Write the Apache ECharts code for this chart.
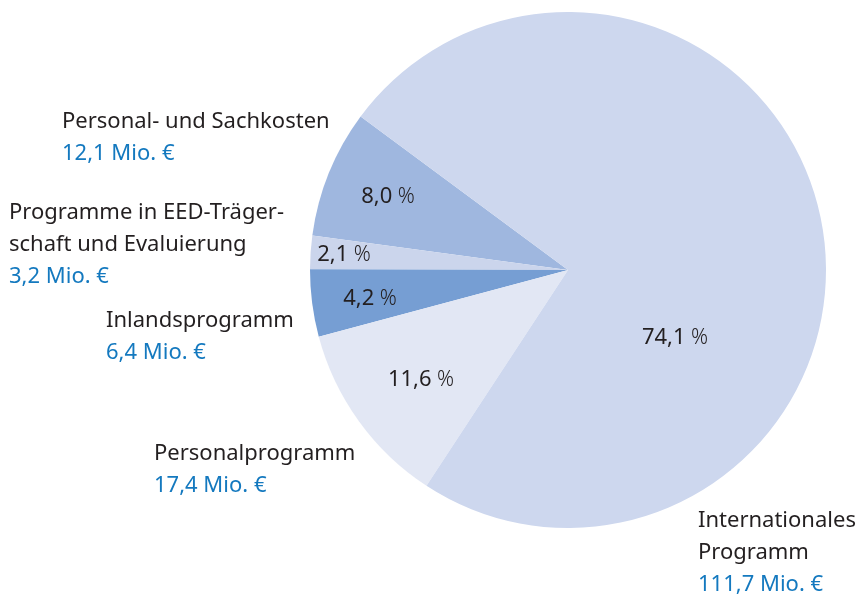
<!DOCTYPE html>
<html>
<head>
<meta charset="utf-8">
<script src="https://cdn.jsdelivr.net/npm/echarts@6/dist/echarts.min.js"></script>
<style>
  html, body { margin: 0; padding: 0; background: #fff; }
  #chart { width: 862px; height: 595px; }
</style>
</head>
<body>
<div id="chart"></div>
<script>
// Slices, counter-clockwise from the upper left edge
var names = ['Personal- und Sachkosten', 'Programme in EED-Träger-\nschaft und Evaluierung', 'Inlandsprogramm', 'Personalprogramm', 'Internationales\nProgramm'];
var amounts = [12.1, 3.2, 6.4, 17.4, 111.7];   // Mio. €
var shares = [8.0, 2.1, 4.2, 11.6, 74.1];      // %

var sliceColors = ['#9fb7df', '#cbd5ec', '#769ed3', '#e2e7f4', '#cdd7ee'];
// where the labels sit (layout only)
var outerLabelPos = [[62, 106], [9, 197], [106, 305], [154, 438], [698, 505]];
var innerLabelPos = [[388, 197], [344, 255], [370, 299], [421, 380], [675, 338]];

function fmt(v) { return v.toFixed(1).replace('.', ','); }

var chart = echarts.init(document.getElementById('chart'));

var common = {
  type: 'pie',
  center: [568, 270],
  radius: 258,
  startAngle: 143.5,
  clockwise: false,
  avoidLabelOverlap: false,
  animation: false,
  silent: true,
  labelLine: { show: false }
};

var option = {
  backgroundColor: '#fff',
  series: [
    // slices + percentage labels
    Object.assign({}, common, {
      data: names.map(function (n, i) {
        return { name: n, value: shares[i], itemStyle: { color: sliceColors[i] } };
      }),
      label: {
        show: true,
        position: 'inside',
        fontFamily: 'Noto Sans',
        fontSize: 22,
        color: '#231f20',
        formatter: function (p) {
          return fmt(shares[p.dataIndex]) + '{p| %}';
        },
        rich: { p: { fontFamily: 'Noto Sans', fontSize: 21, fontWeight: 300, color: '#231f20' } }
      },
      labelLayout: function (p) {
        var pos = innerLabelPos[p.dataIndex];
        return { x: pos[0], y: pos[1], align: 'center', verticalAlign: 'middle' };
      }
    }),
    // invisible copy carrying the name / amount labels
    Object.assign({}, common, {
      data: names.map(function (n, i) { return { name: n, value: shares[i] }; }),
      itemStyle: { color: 'rgba(0,0,0,0)' },
      label: {
        show: true,
        position: 'outside',
        formatter: function (p) {
          var lines = names[p.dataIndex].split('\n').map(function (l) { return '{n|' + l + '}'; });
          lines.push('{v|' + fmt(amounts[p.dataIndex]) + ' Mio. €}');
          return lines.join('\n');
        },
        rich: {
          n: { fontFamily: 'Noto Sans', fontSize: 22, color: '#231f20', lineHeight: 32, align: 'left' },
          v: { fontFamily: 'Noto Sans', fontSize: 22, color: '#1479bf', lineHeight: 32, align: 'left' }
        }
      },
      labelLayout: function (p) {
        var pos = outerLabelPos[p.dataIndex];
        return { x: pos[0], y: pos[1], align: 'left', verticalAlign: 'top' };
      }
    })
  ]
};

chart.setOption(option);
</script>
</body>
</html>
